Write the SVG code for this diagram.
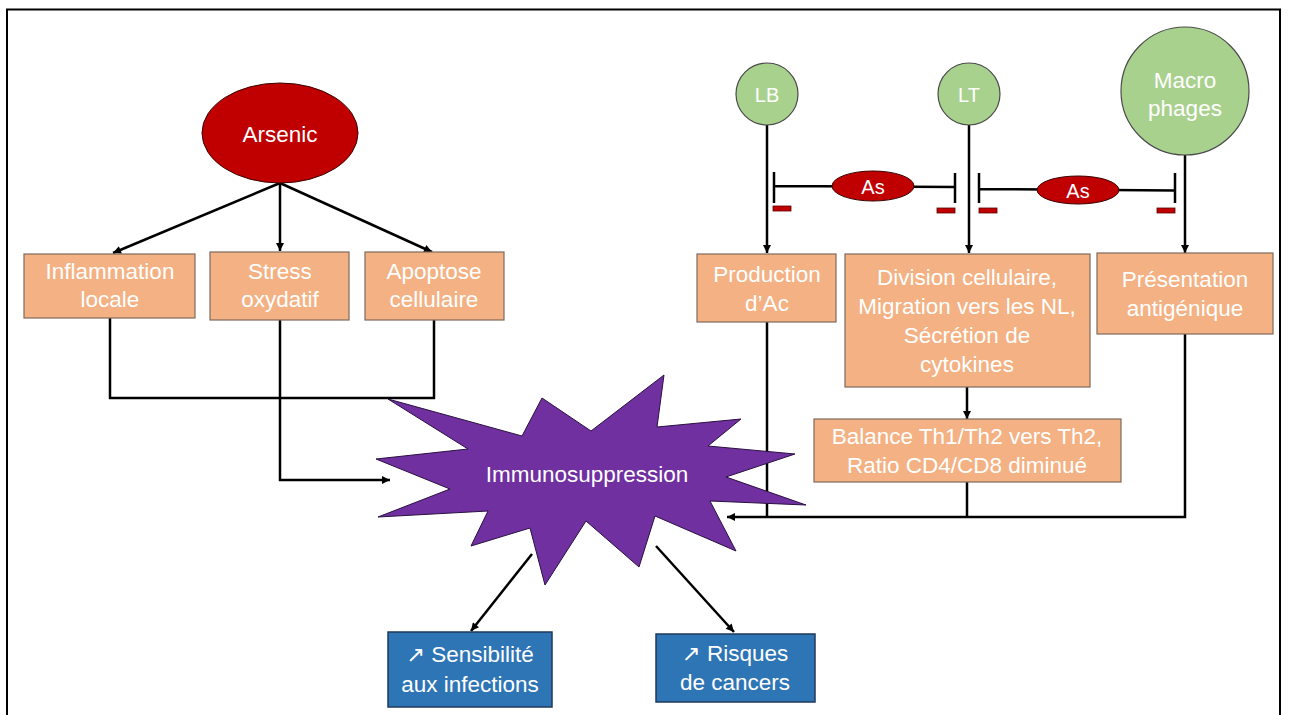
<svg xmlns="http://www.w3.org/2000/svg" width="1290" height="715" viewBox="0 0 1290 715">
<defs>
<marker id="arr" viewBox="0 0 10 10" refX="10" refY="5" markerWidth="9" markerHeight="8" markerUnits="userSpaceOnUse" orient="auto"><path d="M0,0 L10,5 L0,10 z" fill="#000"/></marker>
</defs>
<style>
text{font-family:"Liberation Sans","DejaVu Sans",sans-serif;fill:#fff;text-anchor:middle;font-size:22.5px}
.box{fill:#F4B183;stroke:#7d6a5c;stroke-width:1.2}
.blue{fill:#2E75B6;stroke:#1f3a5c;stroke-width:1.5}
.cell{fill:#A9D18E;stroke:#4a4a4a;stroke-width:1.2}
.red{fill:#C00000;stroke:#3a0000;stroke-width:1}
.con{fill:none;stroke:#000;stroke-width:2.5}
.arr{marker-end:url(#arr)}
.minus{fill:#C00000;stroke:#600000;stroke-width:0.8}
</style>
<rect x="7" y="9.5" width="1273" height="720" fill="#fff" stroke="#000" stroke-width="2"/>

<g id="connectors">
<path class="con arr" d="M280,183 L113,253"/>
<path class="con arr" d="M280,183 L280,251"/>
<path class="con arr" d="M280,183 L432,252"/>
<path class="con" d="M110,318 V398 H434 V320"/>
<path class="con arr" d="M280,320 V480 H390"/>
<path class="con arr" d="M767,125 V253"/>
<path class="con arr" d="M969,125 V253"/>
<path class="con arr" d="M1185,155 V253"/>
<path class="con arr" d="M967,387 V419"/>
<path class="con" d="M767,322 V517"/>
<path class="con" d="M967,482 V517"/>
<path class="con arr" d="M1185,334 V517 H727"/>
<path class="con arr" d="M532,554 L471,631"/>
<path class="con arr" d="M656,546 L734,632"/>
<path class="con" d="M774,186 L955,187 M774,172 V203 M955,173 V203"/>
<path class="con" d="M979,189 L1175,190.5 M979,173 V203 M1175,173 V203"/>
</g>

<g id="arsenic">
<ellipse class="red" cx="280" cy="133" rx="78" ry="50"/>
<text x="280" y="142">Arsenic</text>
</g>
<g id="inflammation">
<rect class="box" x="24" y="254" width="171" height="64"/>
<text x="110" y="279">Inflammation</text>
<text x="110" y="307">locale</text>
</g>
<g id="stress">
<rect class="box" x="210" y="252" width="139" height="68"/>
<text x="280" y="279">Stress</text>
<text x="280" y="307">oxydatif</text>
</g>
<g id="apoptose">
<rect class="box" x="365" y="252" width="139" height="68"/>
<text x="434" y="279">Apoptose</text>
<text x="434" y="307">cellulaire</text>
</g>

<g id="lb">
<circle class="cell" cx="767" cy="94" r="31"/>
<text x="767" y="102" style="font-size:20px">LB</text>
</g>
<g id="lt">
<circle class="cell" cx="969" cy="94" r="31"/>
<text x="969" y="102" style="font-size:20px">LT</text>
</g>
<g id="macrophages">
<circle class="cell" cx="1185" cy="91" r="64"/>
<text x="1185" y="88">Macro</text>
<text x="1185" y="116">phages</text>
</g>

<g id="as1">
<ellipse class="red" cx="873" cy="186" rx="41" ry="15"/>
<text x="873" y="194" style="font-size:20px">As</text>
<rect class="minus" x="773" y="206" width="18" height="5"/>
<rect class="minus" x="937" y="208" width="18" height="5"/>
</g>
<g id="as2">
<ellipse class="red" cx="1078" cy="190" rx="41" ry="14"/>
<text x="1078" y="198" style="font-size:20px">As</text>
<rect class="minus" x="979" y="208" width="18" height="5"/>
<rect class="minus" x="1157" y="208" width="18" height="5"/>
</g>

<g id="production">
<rect class="box" x="697" y="254" width="139" height="68"/>
<text x="767" y="282">Production</text>
<text x="767" y="311">d’Ac</text>
</g>
<g id="division">
<rect class="box" x="845" y="254" width="245" height="133"/>
<text x="967" y="285">Division cellulaire,</text>
<text x="967" y="314">Migration vers les NL,</text>
<text x="967" y="343">Sécrétion de</text>
<text x="967" y="372">cytokines</text>
</g>
<g id="presentation">
<rect class="box" x="1097" y="253" width="176" height="81"/>
<text x="1185" y="287">Présentation</text>
<text x="1185" y="316">antigénique</text>
</g>
<g id="balance">
<rect class="box" x="814" y="419" width="307" height="63"/>
<text x="967" y="444">Balance Th1/Th2 vers Th2,</text>
<text x="967" y="473">Ratio CD4/CD8 diminué</text>
</g>

<g id="immunosuppression">
<polygon fill="#7030A0" stroke="#2a1040" stroke-width="1" points="388,399 522,436 542,398 591,431 664,375 657,427 741,419 708,446 795,454 726,477 806,505 710,501 736,551 655,516 639,567 586,521 545,585 530,528 471,546 488,511 378,517 450,489 376,459 468,449"/>
<text x="587" y="482">Immunosuppression</text>
</g>

<g id="infections">
<rect class="blue" x="388" y="632" width="164" height="75"/>
<text x="470" y="662">↗ Sensibilité</text>
<text x="470" y="692">aux infections</text>
</g>
<g id="cancers">
<rect class="blue" x="656" y="634" width="159" height="68"/>
<text x="735" y="661">↗ Risques</text>
<text x="735" y="690">de cancers</text>
</g>
</svg>
